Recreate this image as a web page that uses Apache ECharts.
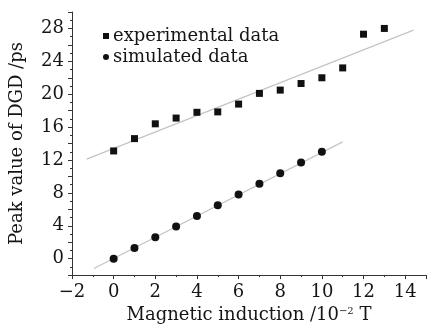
<!DOCTYPE html>
<html>
<head>
<meta charset="utf-8">
<script src="https://cdn.jsdelivr.net/npm/echarts@6/dist/echarts.min.js"></script>
<style>
  html, body { margin: 0; padding: 0; background: #fff; }
  #chart { width: 429px; height: 329px; }
</style>
</head>
<body>
<div id="chart"></div>
<script>
// magnetic induction (10^-2 T)
const fieldExp = [0, 1, 2, 3, 4, 5, 6, 7, 8, 9, 10, 11, 12, 13];
const dgdExp = [13.1, 14.6, 16.4, 17.1, 17.8, 17.85, 18.8, 20.1, 20.5, 21.3, 22.0, 23.2, 27.3, 28.0];

const fieldSim = [0, 1, 2, 3, 4, 5, 6, 7, 8, 9, 10];
const dgdSim = [0.0, 1.3, 2.6, 3.9, 5.2, 6.5, 7.8, 9.1, 10.4, 11.7, 13.0];

// linear fit segments (end points)
const fitExpX = [-1.3, 14.4];
const fitExpY = [12.1, 27.8];
const fitSimX = [-0.95, 11.0];
const fitSimY = [-1.2, 14.2];

const FONT = "DejaVu Serif";
const INK = "#151515";

const pairs = (xs, ys) => xs.map((x, i) => [x, ys[i]]);

const chart = echarts.init(document.getElementById("chart"));

chart.setOption({
  animation: false,
  grid: { left: 72, right: 0, top: 12, bottom: 52, containLabel: false },
  legend: {
    data: [
      { name: "experimental data", icon: "rect" },
      { name: "simulated data", icon: "circle" },
    ],
    orient: "vertical",
    left: 98,
    top: 22,
    itemWidth: 6,
    itemHeight: 6,
    itemGap: 3,
    textStyle: { fontFamily: FONT, fontSize: 18, color: INK, padding: [0, 0, 0, -1] },
  },
  xAxis: {
    type: "value",
    min: -2,
    max: 15,
    interval: 2,
    splitLine: { show: false },
    axisLine: { onZero: false, lineStyle: { color: "#333", width: 1 } },
    axisTick: { inside: false, length: 4, lineStyle: { color: "#333" } },
    minorTick: { show: true, splitNumber: 2, length: 2, lineStyle: { color: "#333" } },
    axisLabel: {
      margin: 8,
      fontFamily: FONT,
      fontSize: 18,
      color: INK,
      formatter: (v) => (v <= 14 ? (v < 0 ? "\u2212" + Math.abs(v) : String(v)) : ""),
    },
    name: "Magnetic induction /10{sup|\u22122} T",
    nameLocation: "middle",
    nameGap: 29,
    nameTextStyle: {
      fontFamily: FONT,
      fontSize: 18,
      color: INK,
      rich: {
        sup: { fontFamily: FONT, fontSize: 10, color: INK, verticalAlign: "top", padding: [0, 0, 8, 0] },
      },
    },
  },
  yAxis: {
    type: "value",
    min: -2,
    max: 30,
    interval: 2,
    splitLine: { show: false },
    axisLine: { onZero: false, lineStyle: { color: "#333", width: 1 } },
    axisTick: { inside: false, length: 4, lineStyle: { color: "#333" } },
    minorTick: { show: true, splitNumber: 2, length: 2, lineStyle: { color: "#333" } },
    axisLabel: {
      margin: 8,
      fontFamily: FONT,
      fontSize: 18,
      color: INK,
      formatter: (v) => (v % 4 === 0 && v >= 0 && v <= 28 ? String(v) : ""),
    },
    name: "Peak value of DGD /ps",
    nameLocation: "middle",
    nameGap: 46,
    nameTextStyle: { fontFamily: FONT, fontSize: 18, color: INK },
  },
  series: [
    {
      name: "fit experimental",
      type: "line",
      data: pairs(fitExpX, fitExpY),
      symbol: "none",
      lineStyle: { color: "#c4c4c4", width: 1.2 },
      silent: true,
      z: 1,
    },
    {
      name: "fit simulated",
      type: "line",
      data: pairs(fitSimX, fitSimY),
      symbol: "none",
      lineStyle: { color: "#c4c4c4", width: 1.2 },
      silent: true,
      z: 1,
    },
    {
      name: "experimental data",
      type: "scatter",
      data: pairs(fieldExp, dgdExp),
      symbol: "rect",
      symbolSize: 7,
      itemStyle: { color: "#111", opacity: 1 },
      z: 3,
    },
    {
      name: "simulated data",
      type: "scatter",
      data: pairs(fieldSim, dgdSim),
      symbol: "circle",
      symbolSize: 8,
      itemStyle: { color: "#111", opacity: 1 },
      z: 3,
    },
  ],
});
</script>
</body>
</html>
